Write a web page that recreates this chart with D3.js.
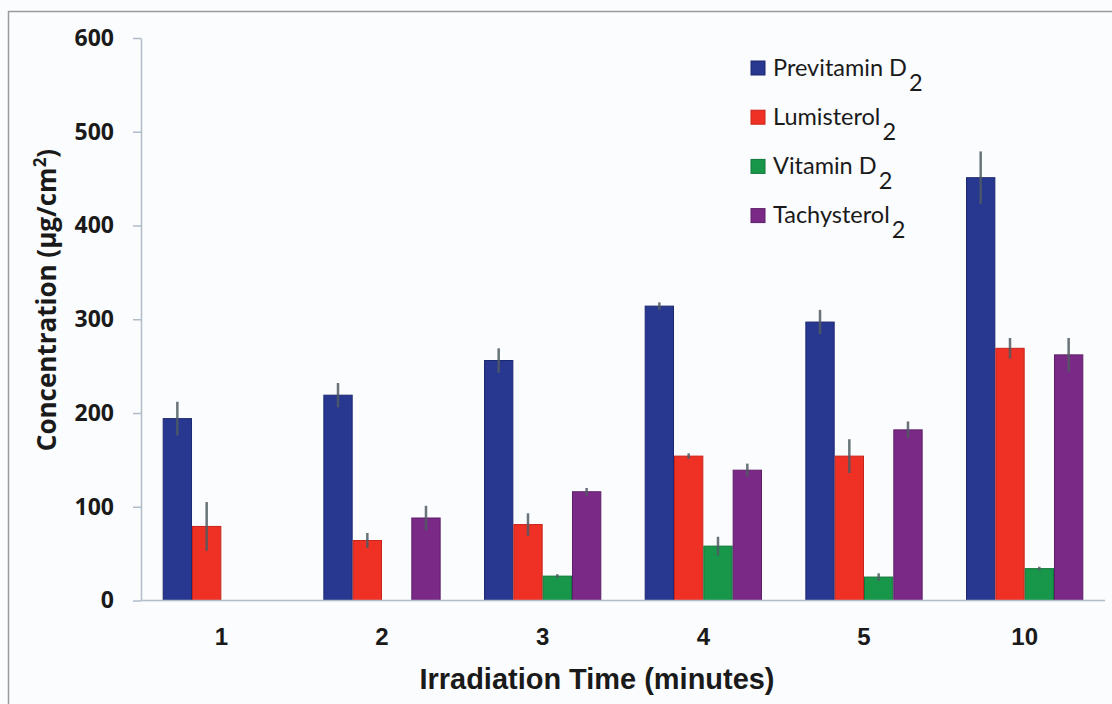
<!DOCTYPE html>
<html>
<head>
<meta charset="utf-8">
<script src="https://cdn.jsdelivr.net/npm/d3@7/dist/d3.min.js"></script>
<style>
  html, body { margin: 0; padding: 0; background: #fbfcfe; }
  svg { display: block; }
</style>
</head>
<body>
<svg id="chart" width="1112" height="704"></svg>
<script>
// ---- data ----
const categories = ["1", "2", "3", "4", "5", "10"];
const seriesNames = ["Previtamin D", "Lumisterol", "Vitamin D", "Tachysterol"];
const seriesSub = ["2", "2", "2", "2"];
const previtaminD2 = [194, 219, 256, 314, 297, 451];
const previtaminD2Err = [18, 13, 13, 4, 13, 28];
const lumisterol2 = [79, 64, 81, 154, 154, 269];
const lumisterol2Err = [26, 8, 12, 3, 18, 11];
const vitaminD2 = [null, null, 26, 58, 25, 34];
const vitaminD2Err = [0, 0, 2, 10, 4, 2];
const tachysterol2 = [null, 88, 116, 139, 182, 262];
const tachysterol2Err = [0, 13, 4, 7, 9, 18];
const yTicks = [0, 100, 200, 300, 400, 500, 600];
const colors = ["#28378f", "#ee3124", "#18974a", "#7a2a86"];
const strokes = ["#1c2870", "#c9241a", "#10773a", "#5e1e68"];

const values = [previtaminD2, lumisterol2, vitaminD2, tachysterol2];
const errors = [previtaminD2Err, lumisterol2Err, vitaminD2Err, tachysterol2Err];

const svg = d3.select("#chart");

// frame
svg.append("rect").attr("x", 0).attr("y", 0).attr("width", 1112).attr("height", 704).attr("fill", "#fbfcfe");
svg.append("path").attr("d", "M8.5,704 V11.5 H1112").attr("fill", "none").attr("stroke", "#9a9a9a").attr("stroke-width", 1.5);

const x0 = d3.scaleBand().domain(categories).range([141, 1105]).paddingInner(0.27).paddingOuter(0.135);
const x1 = d3.scaleBand().domain(d3.range(seriesNames.length)).range([0, x0.bandwidth()]);
const y = d3.scaleLinear().domain([0, 600]).range([600.5, 38]);

// y axis
const yAxis = d3.axisLeft(y).tickValues(yTicks).tickSize(8).tickPadding(19).tickSizeOuter(0);
const gy = svg.append("g").attr("transform", "translate(141,0)").call(yAxis);
gy.select(".domain").attr("stroke", "#aebdc8").attr("stroke-width", 1.5);
gy.selectAll(".tick line").attr("stroke", "#aebdc8").attr("stroke-width", 1.5);
gy.selectAll(".tick text").attr("font-family", "'Open Sans', sans-serif").attr("font-weight", "bold")
  .attr("font-size", 23).attr("fill", "#1a1a1a");

// bars
const data = [];
categories.forEach((c, i) => {
  values.forEach((arr, s) => {
    if (arr[i] != null) data.push({ c, s, v: arr[i], e: errors[s][i] });
  });
});

svg.append("g").selectAll("rect").data(data).join("rect")
  .attr("x", d => x0(d.c) + x1(d.s) + 0.5)
  .attr("y", d => y(d.v))
  .attr("width", x1.bandwidth() - 1)
  .attr("height", d => y(0) - y(d.v))
  .attr("fill", d => colors[d.s])
  .attr("stroke", d => strokes[d.s])
  .attr("stroke-width", 1);

// error bars
svg.append("g").selectAll("line").data(data.filter(d => d.e > 0)).join("line")
  .attr("x1", d => x0(d.c) + x1(d.s) + x1.bandwidth() / 2)
  .attr("x2", d => x0(d.c) + x1(d.s) + x1.bandwidth() / 2)
  .attr("y1", d => y(d.v + d.e))
  .attr("y2", d => y(d.v - d.e))
  .attr("stroke", "#4f5b63")
  .attr("stroke-opacity", 0.85)
  .attr("stroke-width", 2.5);

// x axis
const xAxis = d3.axisBottom(x0).tickSize(0).tickPadding(27);
const gx = svg.append("g").attr("transform", "translate(0,600.5)").call(xAxis);
gx.select(".domain").attr("stroke", "#aebdc8").attr("stroke-width", 1.5).attr("d", "M141,0H1105");
gx.selectAll(".tick text").attr("font-family", "'Liberation Sans Narrow', 'Liberation Sans', sans-serif").attr("font-weight", "bold")
  .attr("font-size", 24).attr("fill", "#1a1a1a");

// axis titles
svg.append("text").attr("x", 597).attr("y", 689).attr("text-anchor", "middle")
  .attr("font-family", "'Liberation Sans Narrow', 'Liberation Sans', sans-serif").attr("font-weight", "bold")
  .attr("font-size", 29).attr("fill", "#1a1a1a")
  .attr("textLength", 355).attr("lengthAdjust", "spacingAndGlyphs")
  .text("Irradiation Time (minutes)");

const yt = svg.append("text").attr("transform", "translate(56,300) rotate(-90)").attr("text-anchor", "middle")
  .attr("font-family", "'Open Sans', sans-serif").attr("font-weight", "bold")
  .attr("font-size", 26).attr("fill", "#1a1a1a");
yt.append("tspan").text("Concentration (µg/cm");
yt.append("tspan").attr("dy", -10).attr("font-size", 17).text("2");
yt.append("tspan").attr("dy", 10).text(")");

// legend
const legend = svg.append("g");
seriesNames.forEach((name, i) => {
  const cy = 68 + i * 49.2;
  legend.append("rect").attr("x", 751).attr("y", cy - 7).attr("width", 14).attr("height", 14)
    .attr("fill", colors[i]).attr("stroke", strokes[i]).attr("stroke-width", 1);
  const t = legend.append("text").attr("x", 773).attr("y", cy + 7.5)
    .attr("font-family", "Lato, sans-serif").attr("font-size", 23.5).attr("fill", "#1a1a1a");
  t.append("tspan").text(name);
  t.append("tspan").attr("dx", 2).attr("dy", 15).text(seriesSub[i]);
});
</script>
</body>
</html>
